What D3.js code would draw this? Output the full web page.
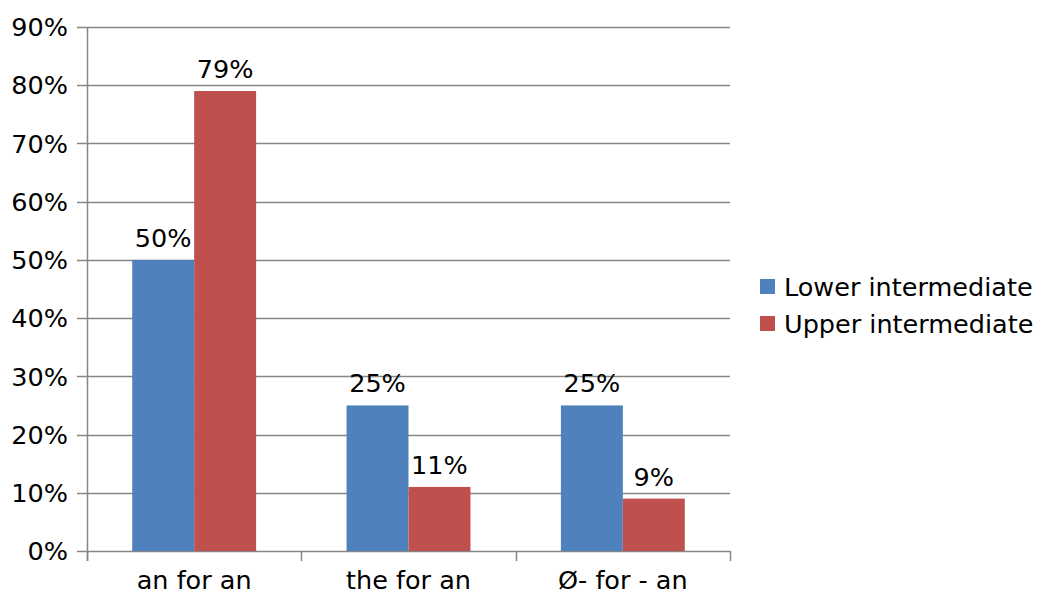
<!DOCTYPE html>
<html>
<head>
<meta charset="utf-8">
<script src="https://cdn.jsdelivr.net/npm/d3@7"></script>
<style>
  html, body { margin: 0; padding: 0; background: #fff; }
  svg { display: block; font-family: "DejaVu Sans", sans-serif; }
</style>
</head>
<body>
<svg id="chart" width="1041" height="596"></svg>
<script>
// Share of answers per substitution type, by learner level
const categories = ["an for an", "the for an", "Ø- for - an"];
const seriesNames = ["Lower intermediate", "Upper intermediate"];
const lowerValues = [50, 25, 25];
const upperValues = [79, 11, 9];
const yTicks = [0, 10, 20, 30, 40, 50, 60, 70, 80, 90];
const colors = ["#4F81BD", "#C0504D"];

const svg = d3.select("#chart");
const margin = { left: 87, right: 311, top: 27, bottom: 45 };
const W = 1041, H = 596;
const fontSize = 25.5;

const x = d3.scaleBand()
  .domain(categories)
  .range([margin.left, W - margin.right])
  .paddingInner(0)
  .paddingOuter(0);

const xInner = d3.scaleBand()
  .domain(seriesNames)
  .range([0, x.bandwidth()])
  .paddingInner(0)
  .paddingOuter(0.73);

const y = d3.scaleLinear()
  .domain([0, 90])
  .range([H - margin.bottom, margin.top]);

const gridColor = "#868686";

// horizontal gridlines
svg.append("g")
  .selectAll("line")
  .data(yTicks)
  .join("line")
  .attr("x1", margin.left - 10)
  .attr("x2", W - margin.right)
  .attr("y1", d => Math.round(y(d)) + 0.5)
  .attr("y2", d => Math.round(y(d)) + 0.5)
  .attr("stroke", gridColor)
  .attr("stroke-width", 1.5);

// y tick labels
svg.append("g")
  .selectAll("text")
  .data(yTicks)
  .join("text")
  .attr("x", margin.left - 19)
  .attr("y", d => y(d))
  .attr("dy", "0.36em")
  .attr("text-anchor", "end")
  .attr("font-size", fontSize)
  .attr("fill", "#000")
  .text(d => d + "%");

// bars
const rows = categories.map((c, i) => ({ cat: c, vals: [lowerValues[i], upperValues[i]] }));
const groups = svg.append("g")
  .selectAll("g")
  .data(rows)
  .join("g")
  .attr("transform", d => `translate(${x(d.cat)},0)`);

groups.selectAll("rect")
  .data(d => d.vals.map((v, k) => ({ name: seriesNames[k], v, k })))
  .join("rect")
  .attr("x", d => xInner(d.name))
  .attr("width", xInner.bandwidth())
  .attr("y", d => y(d.v))
  .attr("height", d => y(0) - y(d.v))
  .attr("fill", d => colors[d.k]);

groups.selectAll("text")
  .data(d => d.vals.map((v, k) => ({ name: seriesNames[k], v, k })))
  .join("text")
  .attr("x", d => xInner(d.name) + xInner.bandwidth() / 2)
  .attr("y", d => y(d.v) - 13)
  .attr("text-anchor", "middle")
  .attr("font-size", fontSize)
  .attr("fill", "#000")
  .text(d => d.v + "%");

// axes lines
svg.append("line")
  .attr("x1", margin.left + 0.5).attr("x2", margin.left + 0.5)
  .attr("y1", margin.top).attr("y2", y(0) + 10)
  .attr("stroke", gridColor).attr("stroke-width", 1.5);

const boundaries = [...categories.map(c => x(c)), x.range()[1]];
svg.append("g")
  .selectAll("line")
  .data(boundaries)
  .join("line")
  .attr("x1", d => Math.round(d) + 0.5)
  .attr("x2", d => Math.round(d) + 0.5)
  .attr("y1", y(0))
  .attr("y2", y(0) + 10)
  .attr("stroke", gridColor)
  .attr("stroke-width", 1.5);

// category labels
svg.append("g")
  .selectAll("text")
  .data(categories)
  .join("text")
  .attr("x", d => x(d) + x.bandwidth() / 2)
  .attr("y", y(0) + 38)
  .attr("text-anchor", "middle")
  .attr("font-size", fontSize)
  .attr("fill", "#000")
  .text(d => d);

// legend
const legend = svg.append("g")
  .selectAll("g")
  .data(seriesNames)
  .join("g")
  .attr("transform", (d, i) => `translate(760,${279 + i * 37})`);

legend.append("rect")
  .attr("width", 15).attr("height", 15)
  .attr("fill", (d, i) => colors[i]);

legend.append("text")
  .attr("x", 24)
  .attr("y", 8)
  .attr("dy", "0.36em")
  .attr("font-size", fontSize)
  .attr("fill", "#000")
  .text(d => d);
</script>
</body>
</html>
